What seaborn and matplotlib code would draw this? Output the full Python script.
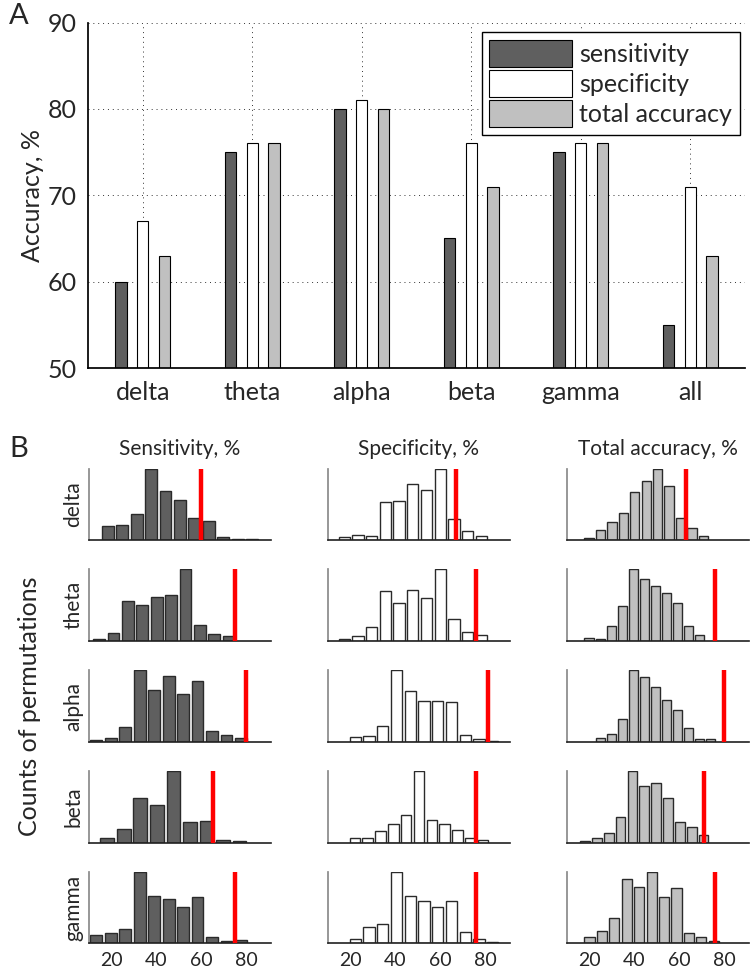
import numpy as np
import pandas as pd
import seaborn as sns
import matplotlib.pyplot as plt

# panel A values
bands = ["delta", "theta", "alpha", "beta", "gamma", "all"]
sensitivity = [60, 75, 80, 65, 75, 55]
specificity = [67, 76, 81, 76, 76, 71]
total_accuracy = [63, 76, 80, 71, 76, 63]
measures = ["sensitivity", "specificity", "total accuracy"]
colors = ["#5f5f5f", "#ffffff", "#c0c0c0"]

# panel B: permutation histograms (bin centres, counts) per band
hist_bands = ["delta", "theta", "alpha", "beta", "gamma"]

sens_centers = [
    [18.3, 24.8, 31.3, 37.6, 44.1, 50.6, 56.9, 63.4, 69.8, 76.2, 82.6],
    [14.5, 20.9, 27.5, 33.9, 40.3, 46.6, 53.0, 59.6, 65.9, 72.1],
    [13.2, 19.6, 26.1, 32.6, 38.9, 45.4, 51.8, 58.3, 64.6, 71.0, 77.6],
    [18.1, 25.7, 33.0, 40.4, 47.6, 55.0, 62.3, 69.7, 76.9],
    [13.2, 19.6, 26.1, 32.6, 38.9, 45.4, 51.8, 58.3, 64.6, 71.0, 77.6],
]
sens_counts = [
    [42, 45, 80, 215, 147, 122, 66, 57, 10, 4, 3],
    [7, 24, 119, 109, 132, 137, 215, 48, 21, 14],
    [6, 13, 45, 215, 157, 198, 145, 183, 32, 20, 13],
    [14, 42, 134, 113, 215, 61, 66, 7, 5],
    [24, 30, 42, 214, 142, 132, 109, 139, 18, 7, 11],
]

spec_centers = [
    [17.2, 23.4, 29.5, 35.6, 41.7, 47.8, 54.0, 60.0, 66.1, 72.2, 78.3],
    [17.2, 23.4, 29.5, 35.6, 41.7, 47.8, 54.0, 60.0, 66.1, 72.2, 78.3],
    [22.1, 28.3, 34.4, 40.6, 46.7, 52.8, 58.8, 64.9, 71.1, 77.3, 83.3],
    [22.0, 27.7, 33.3, 39.0, 44.6, 50.3, 55.9, 61.5, 67.2, 73.0, 79.0],
    [22.1, 28.3, 34.4, 40.6, 46.7, 52.8, 58.8, 64.9, 71.1, 77.3, 83.3],
]
spec_counts = [
    [9, 15, 12, 115, 117, 168, 151, 215, 63, 29, 12],
    [5, 14, 41, 150, 115, 152, 128, 215, 65, 28, 17],
    [14, 17, 47, 215, 152, 122, 124, 121, 20, 8, 4],
    [13, 13, 36, 57, 82, 215, 67, 56, 38, 13, 7],
    [14, 48, 59, 214, 143, 128, 109, 126, 34, 14, 4],
]

acc_centers = [
    [19.8, 25.0, 30.3, 35.3, 40.4, 45.4, 50.5, 55.6, 60.5, 65.5, 70.7],
    [19.8, 25.0, 29.7, 34.7, 39.7, 44.5, 49.3, 54.2, 59.2, 64.1, 69.0],
    [25.0, 29.7, 34.7, 39.6, 44.5, 49.2, 54.3, 59.2, 64.1, 69.0, 73.9],
    [18.0, 23.4, 28.6, 34.0, 39.3, 44.5, 49.6, 54.9, 60.3, 65.5, 70.8],
    [20.0, 25.5, 31.1, 36.6, 42.2, 47.8, 53.3, 58.9, 64.4, 69.9, 75.3],
]
acc_counts = [
    [6, 32, 55, 80, 143, 177, 213, 161, 66, 37, 12],
    [8, 6, 44, 105, 215, 186, 165, 145, 115, 44, 17],
    [11, 24, 70, 215, 195, 166, 126, 95, 41, 10, 8],
    [4, 13, 29, 76, 214, 171, 180, 133, 63, 46, 23],
    [19, 36, 74, 192, 168, 213, 138, 165, 32, 18, 6],
]

col_titles = ["Sensitivity, %", "Specificity, %", "Total accuracy, %"]

sns.set_theme(style="white")
plt.rcParams["font.family"] = ["Lato", "DejaVu Sans"]

fig = plt.figure(figsize=(7.5, 9.71), dpi=100)

# ---------- panel A ----------
df = pd.DataFrame({
    "band": bands * 3,
    "value": sensitivity + specificity + total_accuracy,
    "measure": [m for m in measures for _ in bands],
})

axA = fig.add_axes([0.1173, 0.621, 0.876, 0.3558])
sns.barplot(data=df, x="band", y="value", hue="measure", palette=colors,
            width=0.6, gap=0.48, edgecolor="black", linewidth=0.8,
            saturation=1, ax=axA)
axA.set_xlim(-0.5, 5.5)
axA.set_ylim(50, 90)
axA.set_yticks([50, 60, 70, 80, 90])
axA.grid(True, linestyle=(0, (1, 4)), color="#333333", linewidth=0.7)
axA.set_axisbelow(True)
sns.despine(ax=axA)
axA.spines["left"].set_color("black")
axA.spines["bottom"].set_color("black")
axA.tick_params(axis="both", direction="in", length=4, labelsize=18, color="black")
axA.tick_params(axis="x", pad=9)
axA.tick_params(axis="y", pad=8)
axA.set_xlabel("")
axA.set_ylabel("Accuracy, %", fontsize=18, labelpad=3)

h, l = axA.get_legend_handles_labels()
axA.legend(h, l, loc="upper right", bbox_to_anchor=(0.992, 0.972), fontsize=18,
           frameon=True, fancybox=False, framealpha=1, edgecolor="black",
           handlelength=3.3, handleheight=1.3, handletextpad=0.3,
           labelspacing=0.12, borderpad=0.3, borderaxespad=0)

fig.text(0.012, 0.984, "A", fontsize=21, va="center")
fig.text(0.012, 0.538, "B", fontsize=21, va="center")

# ---------- panel B ----------
col_left = [0.1187, 0.4373, 0.756]
row_bottom = [0.4436, 0.3399, 0.2358, 0.1321, 0.0285]
width, height = 0.2427, 0.0737
hist_sets = [
    (sens_centers, sens_counts, sensitivity, colors[0]),
    (spec_centers, spec_counts, specificity, colors[1]),
    (acc_centers, acc_counts, total_accuracy, colors[2]),
]

for c, (centers_all, counts_all, observed, colour) in enumerate(hist_sets):
    for r, band in enumerate(hist_bands):
        ax = fig.add_axes([col_left[c], row_bottom[r], width, height])
        centers = centers_all[r]
        counts = counts_all[r]
        step = (centers[-1] - centers[0]) / (len(centers) - 1)
        sns.histplot(x=centers, weights=counts, bins=len(centers),
                     binrange=(centers[0] - step / 2, centers[-1] + step / 2),
                     shrink=0.82, color=colour, edgecolor="#2a2a2a",
                     linewidth=1.0, alpha=1, ax=ax)
        ax.axvline(observed[r], color="#ff0000", linewidth=3.2, zorder=5)
        ax.set_xlim(10, 91)
        ax.set_ylim(0, max(counts))
        ax.set_yticks([])
        sns.despine(ax=ax)
        ax.spines["left"].set_color("#8a8a8a")
        ax.spines["bottom"].set_color("#202020")
        ax.spines["bottom"].set_linewidth(1.2)
        ax.set_ylabel(band if c == 0 else "", fontsize=15, labelpad=4)
        ax.set_xlabel("")
        if r == len(hist_bands) - 1:
            ax.set_xticks([20, 40, 60, 80])
            ax.tick_params(axis="x", direction="in", length=2, labelsize=14, pad=6)
        else:
            ax.set_xticks([])
        if r == 0:
            ax.set_title(col_titles[c], fontsize=15, pad=10)

fig.text(0.04, 0.273, "Counts of permutations", rotation=90, fontsize=18,
         ha="center", va="center")

fig.savefig("out.png", dpi=100)
